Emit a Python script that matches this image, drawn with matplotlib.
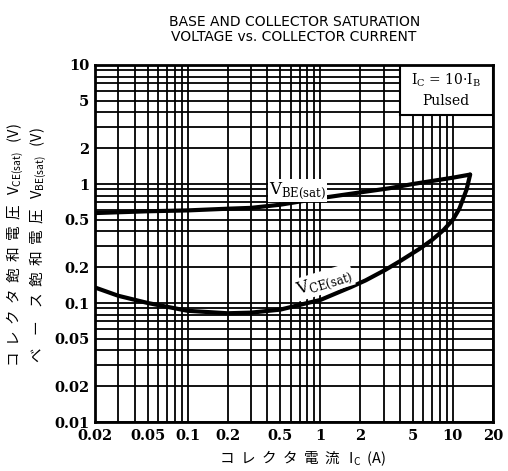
import matplotlib.pyplot as plt
from matplotlib.patches import Rectangle
from matplotlib.ticker import FixedLocator, FixedFormatter, LogLocator, NullFormatter

# collector current (A) and saturation voltages (V)
ic_be = [0.02, 0.05, 0.1, 0.2, 0.3, 0.5, 1, 2, 3.3, 5, 10, 13.5]
vbe_sat = [0.57, 0.59, 0.60, 0.62, 0.63, 0.67, 0.76, 0.85, 0.92, 1.0, 1.13, 1.2]

ic_ce = [0.02, 0.03, 0.05, 0.1, 0.2, 0.3, 0.5, 0.8, 1, 1.7, 2.2, 3.1, 4, 5.6, 7, 8.5, 10, 11.2, 12.7, 13.5]
vce_sat = [0.135, 0.115, 0.1, 0.086, 0.082, 0.083, 0.088, 0.1, 0.106, 0.136, 0.155, 0.19, 0.225,
           0.285, 0.34, 0.41, 0.5, 0.62, 0.9, 1.2]

xticks = [0.02, 0.05, 0.1, 0.2, 0.5, 1, 2, 5, 10, 20]
xticklabels = ['0.02', '0.05', '0.1', '0.2', '0.5', '1', '2', '5', '10', '20']
yticks = [0.01, 0.02, 0.05, 0.1, 0.2, 0.5, 1, 2, 5, 10]
yticklabels = ['0.01', '0.02', '0.05', '0.1', '0.2', '0.5', '1', '2', '5', '10']

jp = ['Noto Sans CJK JP', 'DejaVu Sans']

fig = plt.figure(figsize=(5.08, 4.71), dpi=100)
ax = fig.add_axes([0.187, 0.104, 0.783, 0.758])
ax.set_xscale('log')
ax.set_yscale('log')
ax.set_xlim(0.02, 20)
ax.set_ylim(0.01, 10)

# dense datasheet grid
ax.xaxis.set_minor_locator(LogLocator(base=10, subs=range(1, 10), numticks=20))
ax.yaxis.set_minor_locator(LogLocator(base=10, subs=range(1, 10), numticks=20))
ax.xaxis.set_minor_formatter(NullFormatter())
ax.yaxis.set_minor_formatter(NullFormatter())
ax.grid(True, which='both', color='black', lw=1.3)
ax.set_axisbelow(True)

ax.xaxis.set_major_locator(FixedLocator(xticks))
ax.xaxis.set_major_formatter(FixedFormatter(xticklabels))
ax.yaxis.set_major_locator(FixedLocator(yticks))
ax.yaxis.set_major_formatter(FixedFormatter(yticklabels))
ax.tick_params(which='both', length=0)
ax.tick_params(axis='x', pad=5)
ax.tick_params(axis='y', pad=4)
for lab in ax.get_xticklabels() + ax.get_yticklabels():
    lab.set_fontfamily('DejaVu Serif')
    lab.set_fontweight('bold')
    lab.set_fontsize(10.5)
for s in ax.spines.values():
    s.set_linewidth(2)
    s.set_zorder(6)

ax.plot(ic_be, vbe_sat, color='black', lw=3, solid_capstyle='round', zorder=3)
ax.plot(ic_ce, vce_sat, color='black', lw=3, solid_capstyle='round', zorder=3)

ax.text(0.67, 0.88, r'V$_{\mathregular{BE(sat)}}$', fontsize=12, family='DejaVu Serif',
        ha='center', va='center', zorder=4,
        bbox=dict(boxstyle='square,pad=0.05', fc='white', ec='none'))
ax.text(1.07, 0.15, r'V$_{\mathregular{CE(sat)}}$', fontsize=12, family='DejaVu Serif',
        ha='center', va='center', rotation=17, zorder=4,
        bbox=dict(boxstyle='square,pad=0.05', fc='white', ec='none'))

# condition box in the top right corner
ax.add_patch(Rectangle((0.766, 0.86), 0.234, 0.14, transform=ax.transAxes,
                       fc='white', ec='black', lw=1.5, zorder=5))
ax.text(0.883, 0.93, 'I$_\\mathregular{C}$ = 10$\\cdot$I$_\\mathregular{B}$\nPulsed',
        transform=ax.transAxes, fontsize=10, family='DejaVu Serif', ha='center', va='center',
        linespacing=1.5, zorder=6)

fig.text(0.579, 0.968, 'BASE AND COLLECTOR SATURATION\nVOLTAGE vs. COLLECTOR CURRENT',
         ha='center', va='top', fontsize=10, family='DejaVu Sans', linespacing=1.1)

fig.text(0.595, 0.027, 'コ  レ  ク  タ  電  流   I$_\\mathregular{C}$  (A)', ha='center', va='center',
         fontsize=10.5, family=jp)
fig.text(0.03, 0.48, 'コ  レ  ク  タ  飽  和  電  圧   V$_\\mathregular{CE(sat)}$   (V)', rotation=90,
         ha='center', va='center', fontsize=10.5, family=jp)
fig.text(0.075, 0.48, 'ベ    ー    ス  飽  和  電  圧   V$_\\mathregular{BE(sat)}$   (V)', rotation=90,
         ha='center', va='center', fontsize=10.5, family=jp)

fig.savefig('out.png', dpi=100)
